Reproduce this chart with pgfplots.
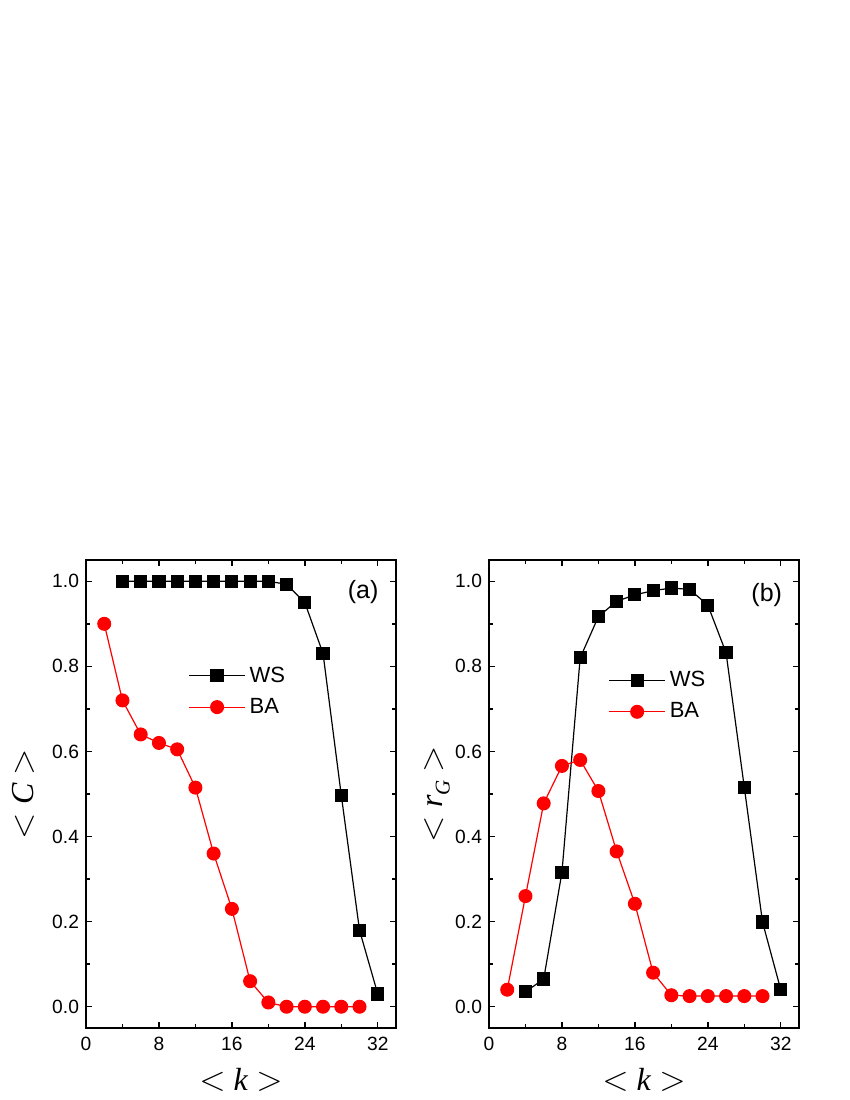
\documentclass[border=0pt]{standalone}
\usepackage{fontspec}
\setmainfont{Liberation Sans}
\newfontfamily\tnr{Liberation Serif}
\usepackage{pgfplots}
\pgfplotsset{compat=1.18}

\pgfplotsset{
  panel/.style={
    scale only axis, width=155pt, height=234pt,
    xmin=0, xmax=34, ymin=-0.05, ymax=1.05,
    xtick={0,8,16,24,32}, minor x tick num=1,
    ytick={0,0.2,0.4,0.6,0.8,1.0}, minor y tick num=1,
    yticklabel style={/pgf/number format/.cd, fixed, fixed zerofill, precision=1},
    /pgf/number format/assume math mode=true,
    tick align=inside, major tick length=3pt, minor tick length=1.8pt,
    every tick/.style={black, line width=0.7pt},
    axis line style={line width=0.9pt},
    tick label style={font=\fontsize{9.6}{11}\selectfont},
    xticklabel style={yshift=-1pt},
    xlabel style={at={(axis description cs:0.5,-0.111)}, anchor=center,
      font=\tnr\fontsize{16}{18}\selectfont},
    ylabel style={anchor=center, font=\tnr\fontsize{16}{18}\selectfont},
    xlabel={$<$\ \textit{k}\ $>$},
    legend style={draw=none, fill=none, font=\fontsize{11}{12.5}\selectfont,
      anchor=north west, row sep=2.5pt},
    legend cell align=left,
    legend image code/.code={\draw[mark repeat=2,mark phase=2,##1]
      plot coordinates {(0pt,0pt) (14pt,0pt) (28pt,0pt)};},
  },
  ws/.style={black, line width=0.6pt, mark=square*, mark size=3pt},
  ba/.style={red, line width=0.6pt, mark=*, mark size=3.2pt},
}

\begin{document}
\begin{tikzpicture}
\useasboundingbox (0,0) rectangle (425pt,550pt);

% panel (a)
\begin{axis}[panel, at={(43pt,36pt)}, anchor=south west,
  ylabel={$<$\ \textit{C}\ $>$},
  ylabel style={at={(axis description cs:-0.203,0.5)}},
  legend style={at={(axis description cs:0.31,0.79)}}]
\addplot[ws] coordinates {
  (4,1.0) (6,1.0) (8,1.0) (10,1.0) (12,1.0) (14,1.0) (16,1.0) (18,1.0) (20,1.0)
  (22,0.993) (24,0.95) (26,0.83) (28,0.497) (30,0.18) (32,0.03)};
\addplot[ba] coordinates {
  (2,0.90) (4,0.72) (6,0.64) (8,0.62) (10,0.605) (12,0.515) (14,0.36) (16,0.23)
  (18,0.06) (20,0.01) (22,0.0) (24,0.0) (26,0.0) (28,0.0) (30,0.0)};
\legend{WS, BA}
\node[font=\fontsize{12.5}{14}\selectfont] at (rel axis cs:0.894,0.932) {(a)};
\end{axis}

% panel (b)
\begin{axis}[panel, at={(244.5pt,36pt)}, anchor=south west,
  ylabel={$<$\ \textit{r}\raisebox{-0.5ex}{\fontsize{10.5}{12}\selectfont\textit{G}}\ $>$},
  ylabel style={at={(axis description cs:-0.168,0.5)}},
  legend style={at={(axis description cs:0.365,0.78)}}]
\addplot[ws] coordinates {
  (4,0.035) (6,0.065) (8,0.316) (10,0.82) (12,0.917) (14,0.953) (16,0.968)
  (18,0.978) (20,0.984) (22,0.981) (24,0.944) (26,0.832) (28,0.516) (30,0.199) (32,0.04)};
\addplot[ba] coordinates {
  (2,0.04) (4,0.26) (6,0.478) (8,0.566) (10,0.58) (12,0.507) (14,0.365) (16,0.242)
  (18,0.08) (20,0.027) (22,0.025) (24,0.025) (26,0.025) (28,0.025) (30,0.025)};
\legend{WS, BA}
\node[font=\fontsize{12.5}{14}\selectfont] at (rel axis cs:0.896,0.925) {(b)};
\end{axis}
\end{tikzpicture}
\end{document}
